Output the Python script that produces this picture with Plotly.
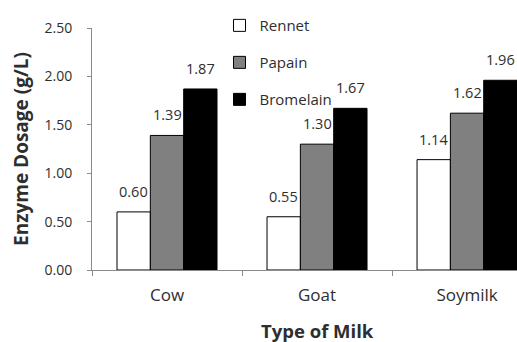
import plotly.graph_objects as go

# Enzyme dosage needed to coagulate each type of milk
milk_types = ["Cow", "Goat", "Soymilk"]
rennet = [0.60, 0.55, 1.14]
papain = [1.39, 1.30, 1.62]
bromelain = [1.87, 1.67, 1.96]

series = [
    ("Rennet", rennet, "#ffffff"),
    ("Papain", papain, "#808080"),
    ("Bromelain", bromelain, "#000000"),
]

FONT = "Open Sans"
TEXT_COLOR = "#2e2e2e"
AXIS_COLOR = "#8a8a8a"

fig = go.Figure()
for name, vals, color in series:
    fig.add_trace(go.Bar(
        x=milk_types, y=vals, name=name,
        legendgroup=name,
        marker=dict(color=color, line=dict(color="#000000", width=1)),
    ))

# value labels above each bar (bar width = 2/9 of a category, 150 px per category)
bar_px = 150 * (2 / 3) / 3
for i, (name, vals, color) in enumerate(series):
    for cat, v in zip(milk_types, vals):
        fig.add_annotation(
            x=cat, y=v, xref="x", yref="y",
            text=f"{v:.2f}", showarrow=False,
            xshift=(i - 1) * bar_px, yshift=9, yanchor="bottom",
            font=dict(family=FONT, size=14.5, color=TEXT_COLOR),
        )

# x-axis title centred on the middle category
fig.add_annotation(
    x="Goat", y=0, xref="x", yref="paper",
    text="<b>Type of Milk</b>", showarrow=False,
    yshift=-60, yanchor="middle",
    font=dict(family=FONT, size=18.5, color=TEXT_COLOR),
)

fig.update_layout(
    width=517, height=342,
    margin=dict(l=92, r=0, t=28, b=72, pad=0),
    paper_bgcolor="white", plot_bgcolor="white",
    barmode="group", bargap=1 / 3, bargroupgap=0,
    showlegend=True,
    legend=dict(
        x=0.30, y=1.078, xanchor="left", yanchor="top",
        font=dict(family=FONT, size=15, color=TEXT_COLOR),
        tracegroupgap=14.5, bgcolor="rgba(0,0,0,0)",
    ),
    font=dict(family=FONT, color=TEXT_COLOR),
    xaxis=dict(
        range=[-0.5, 2.333], showgrid=False,
        showline=True, linecolor=AXIS_COLOR, linewidth=1,
        ticks="outside", tickson="boundaries", ticklen=5, tickcolor=AXIS_COLOR,
        tickfont=dict(family=FONT, size=17, color=TEXT_COLOR),
        ticklabelstandoff=10,
    ),
    yaxis=dict(
        range=[0, 2.5], dtick=0.5, tickformat=".2f",
        showgrid=False, zeroline=False,
        showline=True, linecolor=AXIS_COLOR, linewidth=1,
        ticks="outside", ticklen=4, tickcolor=AXIS_COLOR,
        tickfont=dict(family=FONT, size=14, color=TEXT_COLOR),
        ticklabelstandoff=12,
        title=dict(text="<b>Enzyme Dosage (g/L)</b>", standoff=10,
                   font=dict(family=FONT, size=19, color=TEXT_COLOR)),
    ),
)

fig.write_html("out.html")
